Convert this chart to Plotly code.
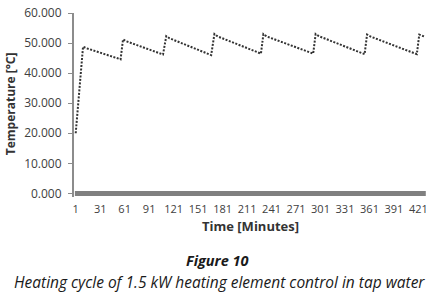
import plotly.graph_objects as go

# Temperature readings (key points)
minutes = [1, 10, 14, 56, 59, 63, 108, 112, 116, 167, 171, 175, 228, 231, 235,
           292, 295, 299, 355, 358, 362, 419, 422, 429]
temps = [20.0, 48.8, 48.3, 44.6, 51.2, 50.6, 46.2, 52.3, 51.6, 46.0, 53.0, 52.2,
         46.5, 53.0, 52.2, 46.5, 53.0, 52.3, 46.3, 52.8, 52.2, 46.3, 52.8, 52.1]

# Second (zero) series
zero_minutes = [0, 430]
zero_values = [0.0, 0.0]

x_ticks = [1, 31, 61, 91, 121, 151, 181, 211, 241, 271, 301, 331, 361, 391, 421]
y_ticks = [0, 10, 20, 30, 40, 50, 60]

W, H = 437, 292
L, T = 74, 13
R = W - 428
B = H - 196.6
PW, PH = W - L - R, H - T - B

fig = go.Figure()
fig.add_trace(go.Scatter(x=zero_minutes, y=zero_values, mode="lines",
                         line=dict(color="#808080", width=5), showlegend=False))
fig.add_trace(go.Scatter(x=minutes, y=temps, mode="lines",
                         line=dict(color="#333333", width=2, dash="2px,1.5px"),
                         showlegend=False))

font_fam = "Open Sans, DejaVu Sans, sans-serif"


def px_x(px):
    return (px - L) / PW


def px_y(py):
    return (H - B - py) / PH


fig.update_layout(
    width=W, height=H,
    margin=dict(l=L, r=R, t=T, b=B, autoexpand=False),
    plot_bgcolor="white", paper_bgcolor="white",
    font=dict(family=font_fam, color="#404040"),
    xaxis=dict(range=[-1.08, 432.7], tickvals=x_ticks, ticktext=[str(v) for v in x_ticks],
               automargin=False,
               showgrid=False, zeroline=False, showline=False,
               ticks="outside", ticklen=2, tickcolor="rgba(0,0,0,0)",
               tickfont=dict(size=11, color="#404040")),
    yaxis=dict(range=[-1.2, 60], tickvals=y_ticks, tickformat=".3f",
               automargin=False, ticklabeloverflow="allow",
               showgrid=False, zeroline=False, showline=True, linecolor="#8c8c8c", linewidth=2,
               ticks="outside", ticklen=4, tickcolor="#8c8c8c", ticklabelstandoff=4,
               tickfont=dict(size=12, color="#404040")),
    annotations=[
        dict(text="<b>Temperature [°C]</b>", xref="paper", yref="paper", x=px_x(10), y=px_y(104),
             xanchor="center", yanchor="middle", textangle=-90, showarrow=False,
             font=dict(size=12, color="#333333", family=font_fam)),
        dict(text="<b>Time [Minutes]</b>", xref="paper", yref="paper", x=px_x(250), y=px_y(226),
             xanchor="center", yanchor="middle", showarrow=False,
             font=dict(size=13, color="#333333", family=font_fam)),
        dict(text="<b><i>Figure 10</i></b>", xref="paper", yref="paper", x=px_x(217), y=px_y(260),
             xanchor="center", yanchor="middle", showarrow=False, borderpad=0,
             font=dict(size=14.5, color="#1a1a1a", family=font_fam)),
        dict(text="<i>Heating cycle of 1.5 kW heating element control in tap water</i>", xref="paper", yref="paper",
             x=px_x(219), y=px_y(281),
             xanchor="center", yanchor="middle", showarrow=False, borderpad=0,
             font=dict(size=15.5, color="#1a1a1a", family=font_fam)),
    ],
)

# remove the browser's default 8px page margin so the figure fills the window
fig.write_html("out.html", config={"displayModeBar": False},
               post_script="document.body.style.margin='0';")
